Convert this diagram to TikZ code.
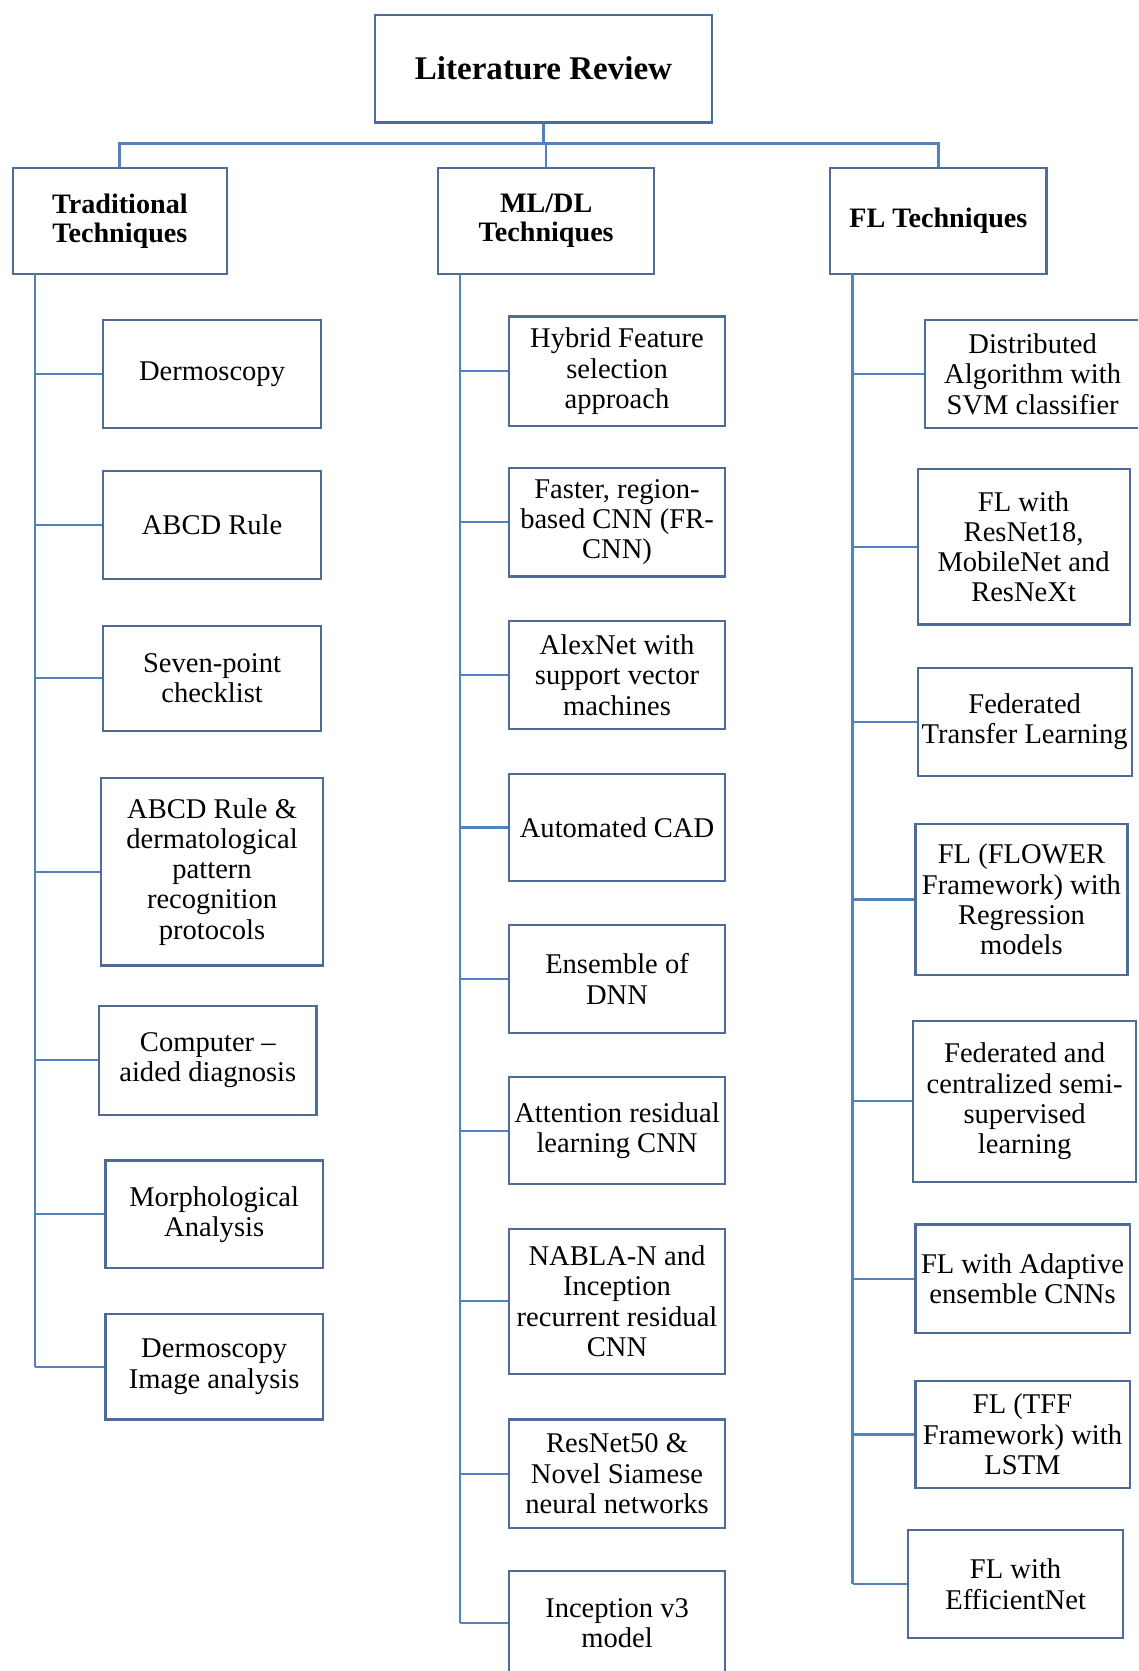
\documentclass[tikz,border=0pt]{standalone}
\usepackage{fontspec}
\setmainfont{Liberation Serif}
\definecolor{linec}{RGB}{84,130,186}
\definecolor{boxc}{RGB}{78,108,150}
\tikzset{
  wh/.style 2 args={minimum width=#1*0.5pt, minimum height=#2*0.5pt},
  leaf/.style={draw=boxc, line width=1pt, inner sep=0pt, align=center, fill=white,
    font=\fontsize{13.4}{14.2}\selectfont},
  head/.style={leaf, font=\bfseries\fontsize{13.2}{13.6}\selectfont},
  link/.style={draw=linec, line width=1pt},
}
\begin{document}
\begin{tikzpicture}[x=0.5pt, y=-0.5pt]
\useasboundingbox (0,0) rectangle (1068,1568);
\clip (0,0) rectangle (1068,1568);
\fill[white] (0,0) rectangle (1068,1568);

% root and the three technique families
\node[head, wh={316}{101}, font=\bfseries\fontsize{15.5}{16}\selectfont] (root) at (510,64.5) {Literature Review};
\node[head, wh={201}{99}] (trad) at (112.5,207.5) {Traditional\\Techniques};
\node[head, wh={203}{99}] (mldl) at (512.5,207.5) {ML/DL\\Techniques};
\node[head, wh={203}{99}] (fl) at (880.5,207.5) {FL Techniques};

\coordinate (bus) at (510,135);
\draw[link, line width=1.4pt] (trad.north) |- (bus) -| (fl.north);
\draw[link] (root.south) -- (bus);
\draw[link] (bus -| mldl.north) -- (mldl.north);

% traditional techniques
\node[leaf, wh={204}{102}] (d1) at (199,351) {Dermoscopy};
\node[leaf, wh={204}{101}] (d2) at (199,492.5) {ABCD Rule};
\node[leaf, wh={204}{99}]  (d3) at (199,636.5) {Seven-point\\checklist};
\node[leaf, wh={208}{176}] (d4) at (199,818) {ABCD Rule \&\\dermatological\\pattern\\recognition\\protocols};
\node[leaf, wh={204}{102}] (d5) at (195,995) {Computer –\\aided diagnosis};
\node[leaf, wh={204}{101}] (d6) at (201,1139.5) {Morphological\\Analysis};
\node[leaf, wh={204}{99}]  (d7) at (201,1282.5) {Dermoscopy\\Image analysis};

% ML/DL techniques
\node[leaf, wh={202}{103}] (m1) at (579,348.5) {Hybrid Feature\\selection\\approach};
\node[leaf, wh={202}{102}] (m2) at (579,490) {Faster, region-\\based CNN (FR-\\CNN)};
\node[leaf, wh={202}{101}] (m3) at (579,633.5) {AlexNet with\\support vector\\machines};
\node[leaf, wh={202}{101}] (m4) at (579,776.5) {Automated CAD};
\node[leaf, wh={202}{101}] (m5) at (579,918.5) {Ensemble of\\DNN};
\node[leaf, wh={202}{100}] (m6) at (579,1061) {Attention residual\\learning CNN};
\node[leaf, wh={202}{136}] (m7) at (579,1221) {NABLA-N and\\Inception\\recurrent residual\\CNN};
\node[leaf, wh={202}{102}] (m8) at (579,1383) {ResNet50 \&\\Novel Siamese\\neural networks};
\node[leaf, wh={202}{98}]  (m9) at (579,1523) {Inception v3\\model};

% FL techniques
\node[leaf, wh={202}{102}] (r1) at (969,351) {Distributed\\Algorithm with\\SVM classifier};
\node[leaf, wh={199}{146}] (r2) at (960.5,513) {FL with\\ResNet18,\\MobileNet and\\ResNeXt};
\node[leaf, wh={201}{101}] (r3) at (961.5,677.5) {Federated\\Transfer Learning};
\node[leaf, wh={199}{142}] (r4) at (958.5,844) {FL (FLOWER\\Framework) with\\Regression\\models};
\node[leaf, wh={209}{151}] (r5) at (961.5,1033.5) {Federated and\\centralized semi-\\supervised\\learning};
\node[leaf, wh={201}{102}] (r6) at (959.5,1200) {FL with Adaptive\\ensemble CNNs};
\node[leaf, wh={201}{100}] (r7) at (959.5,1346) {FL (TFF\\Framework) with\\LSTM};
\node[leaf, wh={202}{101}] (r8) at (953,1486.5) {FL with\\EfficientNet};

% trunks
\coordinate (tL) at (33,257);
\coordinate (tM) at (432,257);
\coordinate (tR) at (800,257);
\draw[link] (tL) -- (tL |- d7.west);
\draw[link] (tM) -- (tM |- m9.west);
\draw[link] (tR) -- (tR |- r8.west);

% branches
\foreach \n in {d1,d2,d3,d4,d5,d6,d7} \draw[link] (tL |- \n.west) -- (\n.west);
\foreach \n in {m1,m2,m3,m4,m5,m6,m7,m8,m9} \draw[link] (tM |- \n.west) -- (\n.west);
\foreach \n in {r1,r2,r3,r4,r5,r6,r7,r8} \draw[link] (tR |- \n.west) -- (\n.west);
\end{tikzpicture}
\end{document}
